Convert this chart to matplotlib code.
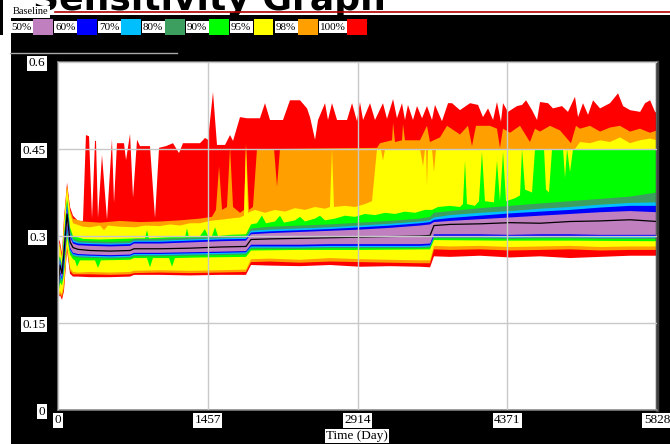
import numpy as np
import matplotlib
matplotlib.use("Agg")
import matplotlib.pyplot as plt
from matplotlib.patches import Rectangle
from matplotlib.lines import Line2D

plt.rcParams["font.family"] = ["Liberation Serif", "DejaVu Serif"]

W, H = 670, 444

# ---- data (days / fraction) ----
x_ticks = [0, 1457, 2914, 4371, 5828]
x_tick_labels = ["0", "1457", "2914", "4371", "5828"]
y_ticks = [0, 0.15, 0.3, 0.45, 0.6]
y_tick_labels = ["0", "0.15", "0.3", "0.45", "0.6"]

legend_labels = ["50%", "60%", "70%", "80%", "90%", "95%", "98%", "100%"]
legend_colors = ["#c080c0", "#0000ff", "#00bfff", "#3c9f5f",
                 "#00ff00", "#ffff00", "#ffa000", "#ff0000"]

base_t = [0, 19, 39, 58, 88, 117, 146, 195, 311, 506, 701, 740, 993, 1284, 1576, 1829,
          1878, 2063, 2355, 2647, 2938, 3230, 3522, 3620, 3658, 3814, 4106, 4398, 4690,
          4982, 5274, 5566, 5828]

baseline = [0.205, 0.250, 0.235, 0.270, 0.338, 0.290, 0.280, 0.277,
            0.275, 0.274, 0.275, 0.278, 0.278, 0.279, 0.281, 0.282,
            0.294, 0.295, 0.296, 0.297, 0.298, 0.299, 0.300, 0.301,
            0.318, 0.320, 0.321, 0.323, 0.322, 0.325, 0.326, 0.328, 0.325]

purple_hi = [0.215, 0.256, 0.240, 0.280, 0.345, 0.298, 0.287, 0.284,
             0.283, 0.282, 0.283, 0.287, 0.287, 0.289, 0.291, 0.292,
             0.303, 0.305, 0.307, 0.309, 0.311, 0.314, 0.318, 0.320,
             0.324, 0.326, 0.329, 0.332, 0.335, 0.338, 0.341, 0.343, 0.341]
purple_lo = [0.200, 0.240, 0.228, 0.255, 0.320, 0.280, 0.271, 0.269,
             0.268, 0.267, 0.268, 0.271, 0.271, 0.272, 0.273, 0.274,
             0.285, 0.285, 0.285, 0.286, 0.286, 0.286, 0.286, 0.287,
             0.303, 0.303, 0.303, 0.302, 0.303, 0.303, 0.302, 0.302, 0.302]

blue_hi = [0.225, 0.258, 0.243, 0.285, 0.350, 0.302, 0.290, 0.287,
           0.286, 0.285, 0.286, 0.290, 0.290, 0.292, 0.294, 0.295,
           0.306, 0.308, 0.310, 0.312, 0.315, 0.318, 0.322, 0.324,
           0.328, 0.331, 0.335, 0.339, 0.342, 0.345, 0.349, 0.352, 0.352]
blue_lo = [0.198, 0.235, 0.225, 0.250, 0.315, 0.277, 0.269, 0.267,
           0.266, 0.265, 0.266, 0.269, 0.269, 0.270, 0.271, 0.272,
           0.282, 0.282, 0.282, 0.283, 0.283, 0.283, 0.283, 0.284,
           0.300, 0.300, 0.300, 0.299, 0.300, 0.300, 0.299, 0.299, 0.299]

lblue_hi = [0.240, 0.260, 0.245, 0.290, 0.355, 0.305, 0.293, 0.289,
            0.288, 0.287, 0.288, 0.292, 0.292, 0.294, 0.296, 0.297,
            0.309, 0.311, 0.313, 0.315, 0.318, 0.321, 0.325, 0.327,
            0.332, 0.336, 0.340, 0.343, 0.347, 0.350, 0.354, 0.357, 0.358]
lblue_lo = [0.197, 0.230, 0.222, 0.245, 0.310, 0.275, 0.267, 0.265,
            0.264, 0.263, 0.264, 0.267, 0.267, 0.268, 0.269, 0.270,
            0.280, 0.280, 0.280, 0.281, 0.281, 0.281, 0.281, 0.282,
            0.298, 0.298, 0.298, 0.297, 0.298, 0.298, 0.297, 0.297, 0.297]

sgreen_hi = [0.250, 0.262, 0.247, 0.295, 0.360, 0.310, 0.296, 0.292,
             0.291, 0.290, 0.291, 0.295, 0.295, 0.297, 0.299, 0.300,
             0.313, 0.316, 0.318, 0.320, 0.323, 0.326, 0.330, 0.333,
             0.340, 0.343, 0.348, 0.352, 0.356, 0.360, 0.364, 0.368, 0.375]
sgreen_lo = [0.196, 0.225, 0.220, 0.240, 0.305, 0.273, 0.265, 0.263,
             0.262, 0.261, 0.262, 0.265, 0.265, 0.266, 0.267, 0.268,
             0.278, 0.278, 0.278, 0.279, 0.279, 0.279, 0.279, 0.280,
             0.296, 0.296, 0.296, 0.295, 0.296, 0.296, 0.295, 0.295, 0.295]

yellow_lo = [0.195, 0.205, 0.200, 0.220, 0.285, 0.245, 0.238, 0.237,
             0.238, 0.237, 0.238, 0.240, 0.241, 0.240, 0.241, 0.242,
             0.260, 0.261, 0.259, 0.262, 0.260, 0.259, 0.258, 0.258,
             0.283, 0.282, 0.283, 0.281, 0.282, 0.283, 0.281, 0.282, 0.282]
orange_lo = [0.194, 0.200, 0.195, 0.210, 0.280, 0.240, 0.234, 0.234,
             0.234, 0.233, 0.234, 0.236, 0.237, 0.236, 0.237, 0.238,
             0.255, 0.256, 0.254, 0.256, 0.255, 0.254, 0.253, 0.253,
             0.277, 0.276, 0.277, 0.275, 0.276, 0.277, 0.275, 0.276, 0.276]
red_lo = [0.193, 0.198, 0.190, 0.205, 0.275, 0.235, 0.230, 0.230,
          0.229, 0.229, 0.230, 0.233, 0.233, 0.232, 0.233, 0.233,
          0.250, 0.249, 0.248, 0.250, 0.247, 0.248, 0.247, 0.246,
          0.265, 0.264, 0.266, 0.263, 0.265, 0.262, 0.264, 0.266, 0.266]

green_lo_t = [0, 19, 39, 58, 88, 117, 146, 165, 185, 214, 360, 389, 418, 701, 740, 866,
              895, 924, 1080, 1109, 1138, 1382, 1829, 1878, 2355, 2938, 3620, 3658, 4300,
              4982, 5828]
green_lo = [0.195, 0.220, 0.215, 0.235, 0.300, 0.268, 0.260, 0.258, 0.247, 0.258,
            0.258, 0.245, 0.258, 0.259, 0.262, 0.262, 0.246, 0.262, 0.262, 0.247,
            0.262, 0.263, 0.264, 0.275, 0.276, 0.276, 0.277, 0.293, 0.292, 0.292, 0.291]

green_hi_t = [0, 19, 39, 58, 88, 117, 146, 243, 409, 603, 798, 846, 866, 885, 1090, 1236,
              1255, 1275, 1382, 1430, 1460, 1498, 1528, 1557, 1674, 1829, 1878, 1936, 1984,
              2024, 2111, 2160, 2199, 2306, 2355, 2403, 2501, 2549, 2598, 2695, 2792, 2890,
              2987, 3084, 3182, 3279, 3376, 3473, 3571, 3639, 3697, 3814, 3911, 3940, 3960,
              3979, 4057, 4096, 4125, 4154, 4242, 4271, 4300, 4330, 4359, 4446, 4495, 4515,
              4544, 4612, 4641, 4729, 4748, 4777, 4807, 4914, 4933, 4953, 4982, 5011, 5828]
green_hi = [0.260, 0.265, 0.250, 0.300, 0.365, 0.315, 0.300, 0.295, 0.294, 0.295, 0.296,
            0.296, 0.310, 0.296, 0.298, 0.298, 0.313, 0.298, 0.300, 0.312, 0.300, 0.300,
            0.315, 0.300, 0.302, 0.303, 0.320, 0.322, 0.335, 0.322, 0.325, 0.335, 0.323,
            0.327, 0.333, 0.325, 0.330, 0.335, 0.327, 0.330, 0.335, 0.333, 0.338, 0.336,
            0.340, 0.338, 0.342, 0.340, 0.345, 0.345, 0.350, 0.352, 0.350, 0.355, 0.430,
            0.355, 0.352, 0.360, 0.445, 0.360, 0.358, 0.430, 0.360, 0.445, 0.360, 0.365,
            0.370, 0.450, 0.380, 0.375, 0.450, 0.450, 0.380, 0.375, 0.450, 0.450, 0.400,
            0.450, 0.410, 0.450, 0.450]

yellow_hi_t = [0, 19, 39, 58, 88, 117, 146, 243, 311, 409, 448, 486, 603, 749, 846, 992,
               1090, 1187, 1284, 1382, 1479, 1576, 1674, 1771, 1810, 1829, 1849, 1917, 2014,
               2111, 2209, 2306, 2403, 2501, 2598, 2646, 2666, 2685, 2792, 2890, 2987, 3055,
               3104, 3142, 3162, 3182, 3522, 3552, 3571, 3581, 3590, 3600, 3639, 3658, 3678,
               5030, 5079, 5176, 5274, 5371, 5468, 5565, 5662, 5760, 5828]
yellow_hi = [0.285, 0.280, 0.260, 0.320, 0.385, 0.340, 0.322, 0.316, 0.315, 0.318, 0.310,
             0.318, 0.316, 0.315, 0.318, 0.317, 0.320, 0.318, 0.322, 0.322, 0.326, 0.328,
             0.330, 0.332, 0.335, 0.455, 0.340, 0.345, 0.340, 0.345, 0.342, 0.348, 0.345,
             0.350, 0.347, 0.350, 0.450, 0.350, 0.352, 0.350, 0.355, 0.360, 0.450, 0.450,
             0.430, 0.450, 0.450, 0.420, 0.450, 0.450, 0.385, 0.450, 0.450, 0.410, 0.450,
             0.450, 0.462, 0.460, 0.465, 0.462, 0.470, 0.460, 0.465, 0.468, 0.465]

orange_hi_t = [0, 19, 39, 58, 88, 117, 146, 243, 409, 603, 798, 992, 1187, 1382, 1498, 1537,
               1567, 1596, 1644, 1674, 1703, 1771, 1810, 1829, 1858, 1897, 1936, 2102, 2131,
               2160, 3104, 3133, 3250, 3260, 3279, 3347, 3357, 3376, 3522, 3590, 3619, 3717,
               3785, 3911, 3989, 4028, 4067, 4203, 4271, 4300, 4330, 4398, 4495, 4592, 4641,
               4690, 4787, 4884, 4991, 5040, 5079, 5176, 5274, 5371, 5468, 5565, 5662, 5760,
               5828]
orange_hi = [0.292, 0.285, 0.265, 0.325, 0.388, 0.345, 0.330, 0.325, 0.323, 0.326, 0.324,
             0.325, 0.327, 0.330, 0.333, 0.345, 0.420, 0.345, 0.350, 0.453, 0.350, 0.340,
             0.345, 0.460, 0.345, 0.350, 0.450, 0.450, 0.385, 0.450, 0.452, 0.460, 0.465,
             0.495, 0.462, 0.465, 0.493, 0.465, 0.465, 0.490, 0.462, 0.470, 0.490, 0.475,
             0.490, 0.455, 0.490, 0.490, 0.485, 0.452, 0.485, 0.478, 0.490, 0.462, 0.485,
             0.480, 0.490, 0.482, 0.460, 0.490, 0.485, 0.490, 0.480, 0.487, 0.490, 0.480,
             0.485, 0.478, 0.482]

red_hi_t = [0, 19, 39, 58, 88, 117, 146, 195, 243, 272, 302, 331, 360, 370, 389, 428, 477,
            525, 545, 574, 642, 662, 701, 730, 769, 798, 895, 944, 983, 1051, 1119, 1177,
            1216, 1382, 1430, 1460, 1508, 1547, 1625, 1674, 1703, 1771, 1839, 1965, 2014,
            2063, 2189, 2257, 2355, 2423, 2452, 2501, 2530, 2598, 2627, 2666, 2715, 2812,
            2861, 2909, 2938, 2968, 3036, 3084, 3162, 3201, 3260, 3298, 3347, 3376, 3405,
            3454, 3493, 3542, 3590, 3639, 3668, 3736, 3795, 3834, 3911, 4009, 4087, 4135,
            4184, 4233, 4271, 4310, 4330, 4378, 4466, 4515, 4554, 4612, 4661, 4690, 4768,
            4816, 4904, 4962, 5030, 5060, 5108, 5157, 5206, 5274, 5371, 5449, 5498, 5566,
            5664, 5712, 5761, 5809, 5828]
red_hi = [0.298, 0.290, 0.270, 0.330, 0.392, 0.350, 0.335, 0.326, 0.326, 0.474, 0.472,
          0.330, 0.464, 0.464, 0.331, 0.440, 0.328, 0.467, 0.357, 0.460, 0.460, 0.431,
          0.476, 0.366, 0.466, 0.455, 0.455, 0.331, 0.452, 0.455, 0.460, 0.443, 0.460,
          0.460, 0.469, 0.466, 0.548, 0.457, 0.457, 0.474, 0.464, 0.505, 0.503, 0.503,
          0.529, 0.500, 0.500, 0.534, 0.534, 0.520, 0.505, 0.466, 0.500, 0.529, 0.500,
          0.529, 0.500, 0.500, 0.529, 0.498, 0.531, 0.500, 0.529, 0.500, 0.529, 0.502,
          0.536, 0.503, 0.529, 0.500, 0.526, 0.500, 0.524, 0.503, 0.524, 0.500, 0.526,
          0.498, 0.529, 0.529, 0.517, 0.529, 0.526, 0.505, 0.520, 0.500, 0.531, 0.497,
          0.529, 0.514, 0.524, 0.526, 0.534, 0.517, 0.500, 0.531, 0.529, 0.520, 0.524,
          0.514, 0.540, 0.505, 0.529, 0.509, 0.534, 0.520, 0.529, 0.546, 0.524, 0.517,
          0.514, 0.529, 0.534, 0.514, 0.512]

# band: (upper t, upper, lower t, lower, colour), drawn outermost first
bands = [
    (red_hi_t, red_hi, base_t, red_lo, legend_colors[7]),
    (orange_hi_t, orange_hi, base_t, orange_lo, legend_colors[6]),
    (yellow_hi_t, yellow_hi, base_t, yellow_lo, legend_colors[5]),
    (green_hi_t, green_hi, green_lo_t, green_lo, legend_colors[4]),
    (base_t, sgreen_hi, base_t, sgreen_lo, legend_colors[3]),
    (base_t, lblue_hi, base_t, lblue_lo, legend_colors[2]),
    (base_t, blue_hi, base_t, blue_lo, legend_colors[1]),
    (base_t, purple_hi, base_t, purple_lo, legend_colors[0]),
]


def fx(px):
    return px / W


def fy(py):
    return 1 - py / H


fig = plt.figure(figsize=(W / 100, H / 100), dpi=100)
fig.patch.set_facecolor("white")

# large title cut off by the top edge and the graph panel
fig.text(fx(33), fy(10), "Sensitivity Graph", fontsize=26, family="DejaVu Sans",
         weight="bold", color="black", va="baseline", ha="left", zorder=1)
# black graph panel covering the rest
fig.add_artist(Rectangle((fx(11), 0), 1, fy(15), transform=fig.transFigure,
                         facecolor="black", edgecolor="none", zorder=1.5))
fig.add_artist(Rectangle((0, fy(35)), fx(2.5), 35 / H, transform=fig.transFigure,
                         facecolor="black", edgecolor="none", zorder=1.5))

ax = fig.add_axes([fx(58), fy(410), fx(599), 348 / H])
ax.set_zorder(2)
ax.set_facecolor("white")

for t_hi, hi, t_lo, lo, col in bands:
    xs = np.concatenate([np.array(t_hi), np.array(t_lo)[::-1]])
    ys = np.concatenate([np.array(hi), np.array(lo)[::-1]])
    ax.fill(xs, ys, color=col, linewidth=0)

ax.plot(base_t, baseline, color="black", lw=0.9)

ax.set_xlim(0, 5828)
ax.set_ylim(0, 0.6)
ax.set_xticks(x_ticks)
ax.set_xticklabels(x_tick_labels)
ax.set_yticks(y_ticks)
ax.set_yticklabels(y_tick_labels)
ax.grid(True, color="#c8c8c8", lw=1)
ax.set_axisbelow(False)
ax.tick_params(axis="y", length=0, pad=9, labelsize=9.5, colors="black")
ax.tick_params(axis="x", length=0, pad=3, labelsize=9.5, colors="black")
for lbl in ax.get_xticklabels() + ax.get_yticklabels():
    lbl.set_bbox(dict(facecolor="white", edgecolor="none", pad=1))

for side in ["left", "bottom", "top"]:
    ax.spines[side].set_color("#808080")
    ax.spines[side].set_linewidth(1.2)
ax.spines["right"].set_color("#404040")
ax.spines["right"].set_linewidth(2.5)

fig.text(fx(357), fy(436), "Time (Day)", ha="center", va="center", fontsize=9.5,
         zorder=3, bbox=dict(facecolor="white", edgecolor="none", pad=1))

# legend
fig.text(fx(13), fy(12), "Baseline", ha="left", va="center", fontsize=7.5, zorder=3,
         bbox=dict(facecolor="white", edgecolor="none", pad=1.2))
fig.add_artist(Line2D([fx(55), 1], [fy(12), fy(12)], transform=fig.transFigure,
                      color="#b00000", lw=1.2, zorder=3))

label_x = [11, 55, 99, 143, 187, 231, 276, 320]
swatch_x = [33, 77, 121, 165, 209, 254, 298, 347]
for lab, col, lx, sx in zip(legend_labels, legend_colors, label_x, swatch_x):
    fig.text(fx(lx), fy(27), lab, ha="left", va="center", fontsize=8, zorder=3,
             bbox=dict(facecolor="white", edgecolor="none", pad=1))
    fig.add_artist(Rectangle((fx(sx), fy(35)), fx(19.5), 16 / H, transform=fig.transFigure,
                             facecolor=col, edgecolor="none", zorder=3))

fig.add_artist(Line2D([fx(10), fx(177)], [fy(53), fy(53)], transform=fig.transFigure,
                      color="#a8a8a8", lw=1, zorder=3))

fig.savefig("out.png", dpi=100, facecolor=fig.get_facecolor())
